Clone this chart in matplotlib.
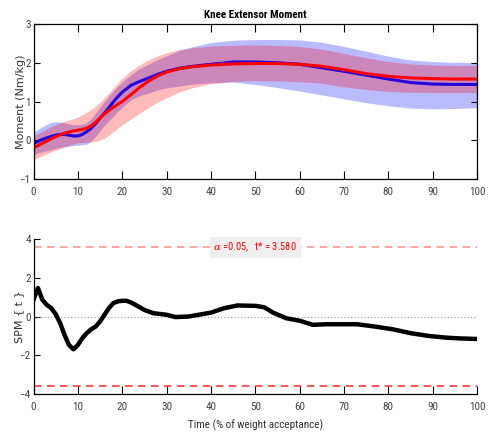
import matplotlib
matplotlib.use("Agg")
import matplotlib.pyplot as plt

# ---- data ----
pct = [0, 1, 2, 3, 4, 5, 6, 7, 8, 9, 10, 11, 12, 13, 14, 15, 16, 17, 18, 19, 20,
       22, 24, 26, 28, 30, 33, 36, 40, 45, 50, 55, 60, 65, 70, 75, 80, 85, 90, 95, 100]

blue_mean = [-0.08, -0.03, 0.02, 0.06, 0.10, 0.13, 0.15, 0.15, 0.13, 0.11, 0.11, 0.15, 0.22,
             0.31, 0.43, 0.57, 0.70, 0.84, 0.99, 1.12, 1.24, 1.42, 1.52, 1.61, 1.70, 1.78,
             1.86, 1.91, 1.96, 2.02, 2.02, 2.00, 1.96, 1.87, 1.78, 1.68, 1.58, 1.49, 1.45,
             1.44, 1.44]
blue_upper = [0.20, 0.28, 0.35, 0.41, 0.46, 0.48, 0.47, 0.45, 0.42, 0.40, 0.40, 0.41, 0.45,
              0.55, 0.70, 0.85, 1.00, 1.14, 1.28, 1.40, 1.50, 1.70, 1.85, 1.97, 2.08, 2.18,
              2.32, 2.42, 2.52, 2.58, 2.60, 2.60, 2.59, 2.53, 2.42, 2.30, 2.17, 2.07, 2.03,
              2.01, 2.01]
blue_lower = [-0.36, -0.33, -0.30, -0.27, -0.24, -0.21, -0.18, -0.16, -0.15, -0.14, -0.13,
              -0.12, -0.10, -0.02, 0.10, 0.25, 0.38, 0.50, 0.62, 0.74, 0.85, 1.05, 1.15, 1.22,
              1.30, 1.35, 1.40, 1.45, 1.48, 1.50, 1.44, 1.36, 1.27, 1.17, 1.07, 0.97, 0.89,
              0.83, 0.81, 0.82, 0.84]

red_mean = [-0.19, -0.14, -0.08, -0.02, 0.04, 0.09, 0.14, 0.18, 0.21, 0.24, 0.26, 0.28, 0.31,
            0.37, 0.46, 0.57, 0.68, 0.77, 0.85, 0.93, 1.00, 1.18, 1.37, 1.53, 1.66, 1.76,
            1.85, 1.90, 1.94, 1.97, 1.98, 1.98, 1.96, 1.91, 1.82, 1.72, 1.65, 1.61, 1.59,
            1.58, 1.58]
red_upper = [0.12, 0.17, 0.22, 0.29, 0.35, 0.40, 0.45, 0.49, 0.52, 0.56, 0.60, 0.66, 0.72,
             0.80, 0.88, 0.98, 1.10, 1.22, 1.35, 1.48, 1.60, 1.80, 1.95, 2.08, 2.18, 2.26,
             2.34, 2.39, 2.43, 2.45, 2.46, 2.45, 2.42, 2.35, 2.24, 2.13, 2.03, 1.97, 1.94,
             1.93, 1.93]
red_lower = [-0.50, -0.45, -0.40, -0.35, -0.30, -0.26, -0.22, -0.18, -0.14, -0.10, -0.07,
             -0.06, -0.05, -0.04, -0.03, 0.00, 0.05, 0.13, 0.22, 0.31, 0.40, 0.55, 0.70, 0.85,
             0.98, 1.10, 1.25, 1.36, 1.46, 1.52, 1.54, 1.53, 1.51, 1.47, 1.38, 1.31, 1.26,
             1.24, 1.23, 1.23, 1.23]

spm_x = [0, 1, 2, 3, 4, 5, 6, 7, 8, 9, 10, 11, 12, 13, 14, 15, 16, 17, 18, 19, 20, 21, 22,
         23, 25, 27, 30, 32, 35, 38, 40, 43, 46, 50, 52, 54, 57, 60, 63, 66, 69, 73, 77, 81,
         85, 89, 93, 96, 100]
spm_t = [0.86, 1.47, 0.86, 0.60, 0.43, 0.12, -0.34, -0.95, -1.47, -1.69, -1.47, -1.12,
         -0.86, -0.66, -0.52, -0.26, 0.09, 0.43, 0.69, 0.78, 0.81, 0.81, 0.72, 0.60, 0.34,
         0.17, 0.09, -0.03, 0.00, 0.12, 0.20, 0.43, 0.57, 0.55, 0.48, 0.20, -0.09, -0.22,
         -0.43, -0.40, -0.40, -0.40, -0.52, -0.66, -0.86, -1.00, -1.09, -1.13, -1.16]

t_crit = 3.580
alpha_level = 0.05

top_xticks = [0, 10, 20, 30, 40, 50, 60, 70, 80, 90, 100]
top_yticks = [-1, 0, 1, 2, 3]
bot_yticks = [-4, -2, 0, 2, 4]

# ---- styling ----
narrow = ['Roboto Condensed', 'Liberation Sans Narrow', 'Liberation Sans', 'DejaVu Sans']
plt.rcParams['font.family'] = narrow
plt.rcParams['mathtext.fontset'] = 'dejavuserif'

fig = plt.figure(figsize=(4.89, 4.36), dpi=100)
W, H = 489, 436
ax1 = fig.add_axes([33.5 / W, 1 - 179 / H, (477 - 33.5) / W, 155 / H])
ax2 = fig.add_axes([33.5 / W, 1 - 394 / H, (477 - 33.5) / W, 155 / H])

band_alpha = 0.27
ax1.fill_between(pct, blue_lower, blue_upper, color=(0, 0, 1), alpha=band_alpha, lw=0)
ax1.plot(pct, blue_mean, color=(0.15, 0, 0.85), lw=2.2, solid_capstyle='butt')
ax1.fill_between(pct, red_lower, red_upper, color=(1, 0, 0), alpha=band_alpha, lw=0)
ax1.plot(pct, red_mean, color=(1, 0, 0), lw=2.2, solid_capstyle='butt')

ax1.set_xlim(0, 100)
ax1.set_ylim(-1, 3)
ax1.set_xticks(top_xticks)
ax1.set_yticks(top_yticks)
ax1.tick_params(direction='in', top=True, right=True, labelsize=8, width=0.8,
                colors='black', labelcolor='#444444')
ax1.tick_params(axis='x', length=5.5, pad=6)
ax1.tick_params(axis='y', length=4.5, pad=2)
for s in ax1.spines.values():
    s.set_linewidth(0.9)
ax1.set_title('Knee Extensor Moment', fontsize=8, fontweight='bold', pad=4.5)
ax1.set_ylabel('Moment (Nm/kg)', fontsize=8, family=['DejaVu Sans'], color='#333333')
ax1.yaxis.set_label_coords(-0.018, 0.5)

# bottom panel
ax2.axhline(0, color='#999999', lw=0.8, ls=(0, (1, 2)))
ax2.axhline(t_crit, color='#ff8c8c', lw=1.1, ls=(0, (5, 3.5)))
ax2.axhline(-t_crit, color='#ff2a2a', lw=1.1, ls=(0, (5, 3.5)))
ax2.plot(spm_x, spm_t, color='black', lw=3.2, solid_joinstyle='round')
ax2.text(50, t_crit, r'$\alpha$ =0.05,   t* = 3.580', color='red', fontsize=7.5,
         ha='center', va='center',
         bbox=dict(boxstyle='square,pad=0.35', fc='#efefef', ec='none'))

ax2.set_xlim(0, 100)
ax2.set_ylim(-4, 4)
ax2.set_xticks(top_xticks)
ax2.set_yticks(bot_yticks)
ax2.spines['top'].set_visible(False)
ax2.spines['right'].set_visible(False)
for s in ax2.spines.values():
    s.set_linewidth(0.9)
ax2.tick_params(direction='in', labelsize=8, width=0.8, labelcolor='#444444')
ax2.tick_params(axis='x', length=5.5, pad=6)
ax2.tick_params(axis='y', length=4.5, pad=2)
ax2.set_ylabel('SPM { t }', fontsize=8, family=['DejaVu Sans'], color='#333333')
ax2.yaxis.set_label_coords(-0.021, 0.5)
ax2.set_xlabel('Time (% of weight acceptance)', fontsize=8, color='#333333', labelpad=5)

fig.savefig('out.png', dpi=100)
